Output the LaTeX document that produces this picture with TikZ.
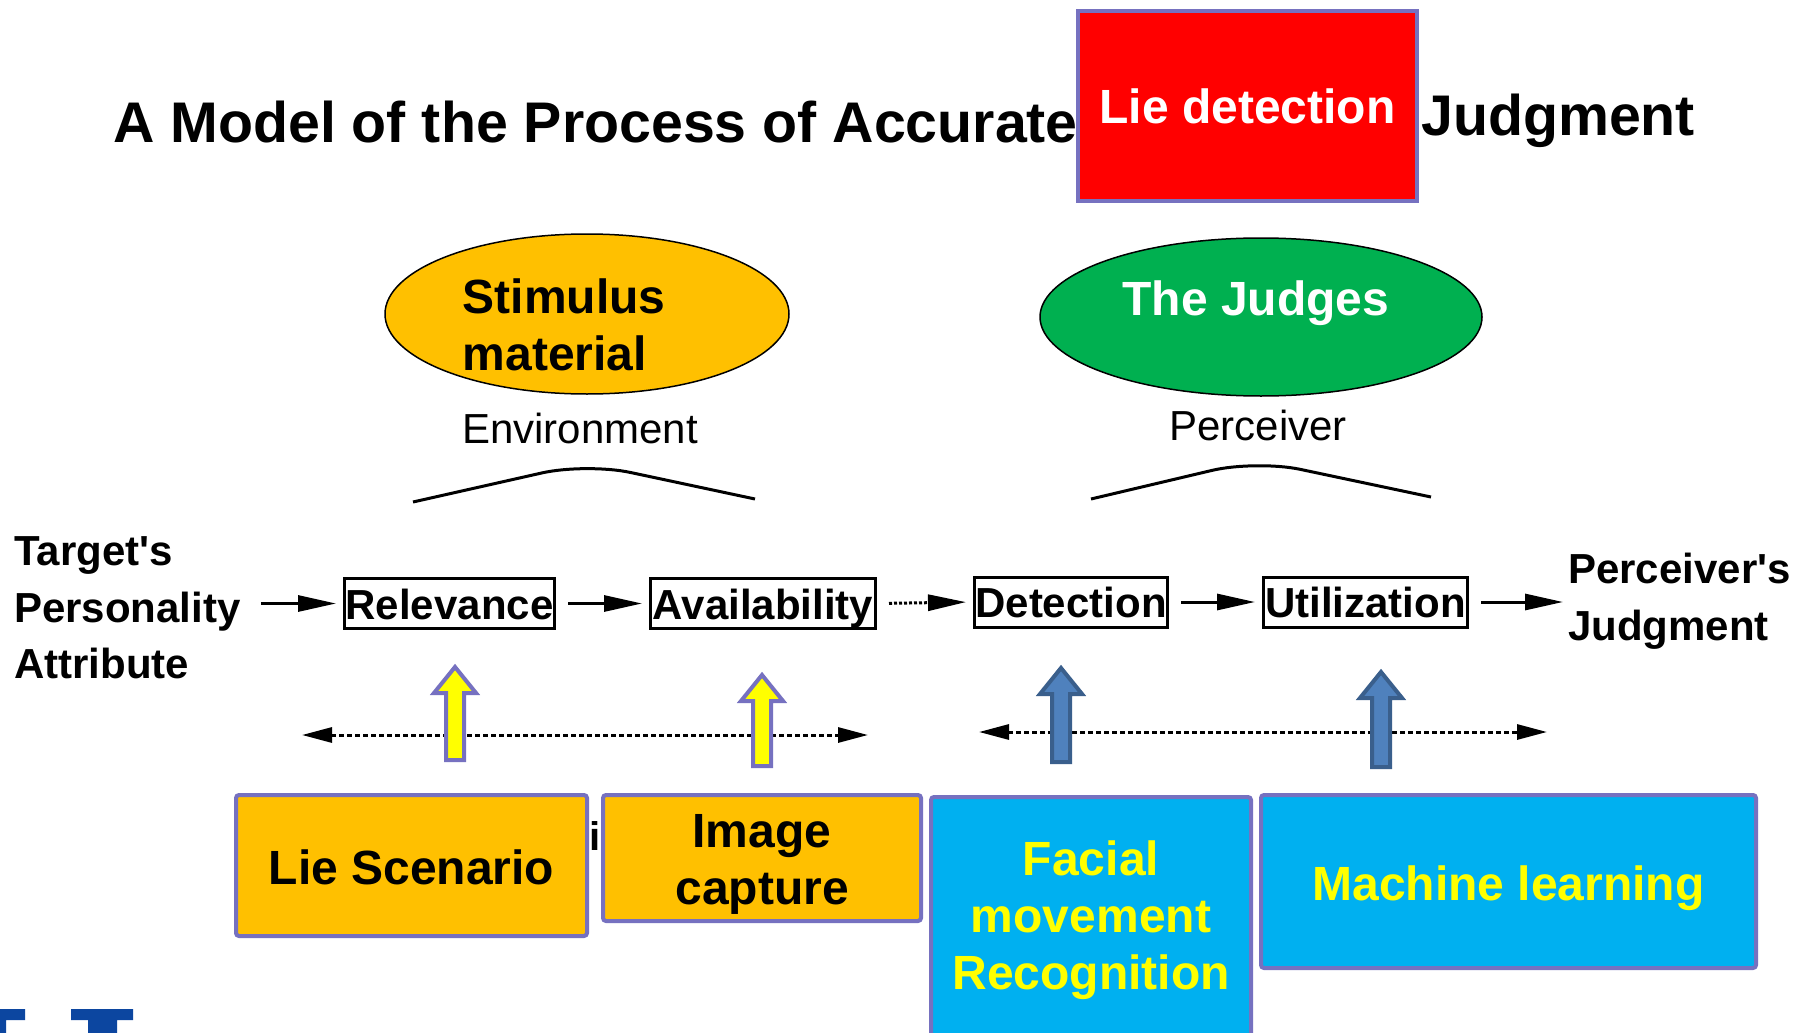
\documentclass[tikz,border=0pt]{standalone}
\usepackage{fontspec}
\setmainfont{Liberation Sans}
\usetikzlibrary{shapes.geometric,arrows.meta}

\definecolor{frame}{RGB}{118,113,192}
\definecolor{amber}{RGB}{255,192,0}
\definecolor{leaf}{RGB}{0,176,80}
\definecolor{sky}{RGB}{0,176,240}
\definecolor{steel}{RGB}{79,129,189}
\definecolor{steeldark}{RGB}{58,95,140}
\definecolor{logoblue}{RGB}{12,70,160}
\definecolor{lemon}{RGB}{255,255,0}

% upward block arrow: x, tip y, bottom y, fill, border
\newcommand{\blockup}[5]{%
  \filldraw[fill=#4, draw=#5, line width=4pt, line join=miter]
    (#1,#2+3) -- (#1+21,#2+29) -- (#1+9,#2+29) -- (#1+9,#3-2)
    -- (#1-9,#3-2) -- (#1-9,#2+29) -- (#1-21,#2+29) -- cycle;}

\begin{document}
\begin{tikzpicture}[x=1pt,y=-1pt,
  titlefont/.style={font=\fontsize{57.3}{60}\selectfont\bfseries},
  bigfont/.style={font=\fontsize{48}{57}\selectfont\bfseries},
  scanfont/.style={font=\fontsize{42}{56.5}\selectfont\bfseries},
  plainfont/.style={font=\fontsize{42}{50}\selectfont},
  stagebox/.style={draw, line width=3pt, scanfont, inner sep=0pt, minimum height=50pt,
                   text height=39pt, text depth=8pt},
  bottombox/.style={draw=frame, line width=4pt, rounded corners=3pt, inner sep=0pt},
  boxtext/.style={bigfont, align=center, inner sep=0pt},
  conn/.style={line width=3pt, -{Triangle[length=38pt,width=16pt]}, shorten <=12pt, shorten >=7pt},
  dots/.style={line width=3pt, dash pattern=on 5pt off 3pt, {Triangle[length=30pt,width=15pt]}-{Triangle[length=30pt,width=15pt]}},
  arc/.style={line width=3pt, rounded corners=45pt}
]
\useasboundingbox[fill=white] (0,0) rectangle (1810,1033);

% title
\node[titlefont, anchor=base west, inner sep=0] (title) at (113,142) {A Model of the Process of Accurate};
\node[titlefont, anchor=base west, inner sep=0] (title2) at (1421,135) {Judgment};
\node[draw=frame, line width=4pt, fill=red, minimum width=339pt, minimum height=190pt,
      inner sep=0, text=white, bigfont] (lie) at (1247.5,106) {Lie detection};

% ellipses
\node[ellipse, draw, line width=1.5pt, fill=amber, minimum width=404pt, minimum height=160pt, inner sep=0] (stim) at (587,314) {};
\node[bigfont, align=left, inner sep=0] (stimtxt) at (564,325) {Stimulus\\material};
\node[ellipse, draw, line width=1.5pt, fill=leaf, minimum width=442pt, minimum height=158pt, inner sep=0] (judges) at (1261,317) {};
\node[bigfont, text=white, inner sep=0] (judgestxt) at (1256,303) {The Judges};

% group labels and their arcs
\node[plainfont, inner sep=0] (env) at (580,428) {Environment};
\node[plainfont, inner sep=0] (perc) at (1258,425) {Perceiver};
\draw[arc] (413,502) -- (586,463) -- (755,499);
\draw[arc] (1091,499) -- (1256,460) -- (1431,497);

% stage chain
\node[scanfont, align=left, anchor=west, inner sep=0] (target) at (14,608) {Target\textquotesingle s\\Personality\\Attribute};
\node[stagebox, minimum width=210pt] (rel) at (449.5,603.5) {Relevance};
\node[stagebox, minimum width=225pt] (avail) at (763,603.5) {Availability};
\node[stagebox, minimum width=193pt] (detect) at (1071,602) {Detection};
\node[stagebox, minimum width=204pt] (util) at (1365.5,602) {Utilization};
\node[scanfont, align=left, anchor=west, inner sep=0] (judg) at (1568,601) {Perceiver\textquotesingle s\\Judgment};

\draw[conn, shorten <=20pt] (target.east |- rel.west) -- (rel.west);
\draw[conn] (rel.east) -- (avail.west);
\draw[conn, dash pattern=on 3pt off 2pt] (avail.east) -- (detect.west);
\draw[conn] (detect.east) -- (util.west);
\draw[conn, shorten >=5pt] (util.east) -- (util.east -| judg.west);

% dotted ranges
\coordinate (envL) at (302,735);
\coordinate (envR) at (868,735);
\coordinate (percL) at (979,732);
\coordinate (percR) at (1547,732);
\draw[dots] (envL) -- (envR);
\draw[dots] (percL) -- (percR);

% block arrows pointing up to the stages
\blockup{455}{664}{762}{lemon}{frame}
\blockup{762}{672}{768}{lemon}{frame}
\blockup{1061}{665}{764}{steel}{steeldark}
\blockup{1381}{669}{769}{steel}{steeldark}

% letter peeking between the lower boxes
\node[font=\fontsize{40}{40}\selectfont\bfseries, anchor=base, inner sep=0] (frag) at (595,850) {i};

% lower boxes
\node[bottombox, fill=amber, minimum width=351pt, minimum height=141pt] (scen) at (411.5,865.5) {};
\node[bottombox, fill=amber, minimum width=318pt, minimum height=126pt] (img) at (762,858) {};
\node[bottombox, fill=sky, minimum width=320pt, minimum height=240pt] (face) at (1091,917) {};
\node[bottombox, fill=sky, minimum width=495pt, minimum height=173pt] (ml) at (1508.5,881.5) {};
\node[boxtext] (scentxt) at ([yshift=-2pt]scen.center) {Lie Scenario};
\node[boxtext] (imgtxt) at ([yshift=-6pt]img.center) {Image\\capture};
\node[boxtext, text=lemon] (facetxt) at ([yshift=-3pt]face.center) {Facial\\movement\\Recognition};
\node[boxtext, text=lemon] (mltxt) at ([yshift=-7pt]ml.center) {Machine learning};

% logo fragment, bottom left
\fill[logoblue] (0,1009) -- (25,1009) -- (25,1020) -- (6,1020) -- (6,1033) -- (0,1033) -- cycle;
\fill[logoblue] (71,1009) -- (133,1009) -- (133,1020) -- (117,1020) -- (117,1033) -- (88,1033) -- (88,1020) -- (71,1020) -- cycle;
\end{tikzpicture}
\end{document}
